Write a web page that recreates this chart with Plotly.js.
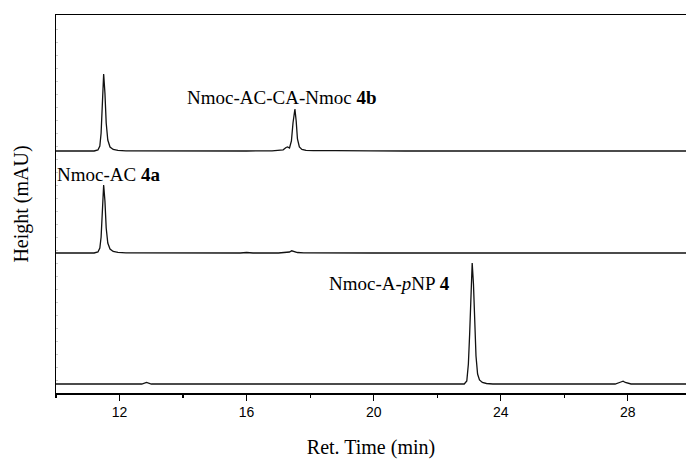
<!DOCTYPE html>
<html>
<head>
<meta charset="utf-8">
<script src="https://cdn.plot.ly/plotly-3.0.1.min.js"></script>
<style>
  html, body { margin: 0; padding: 0; background: #fff; }
  #chart { width: 686px; height: 460px; }
</style>
</head>
<body>
<div id="chart"></div>
<script>
// HPLC chromatograms, retention time (min) vs detector height (mAU)

// Nmoc-AC-CA-Nmoc 4b run
const timeDimer = [10.0, 10.6, 11.2, 11.32, 11.38, 11.42, 11.46, 11.50, 11.54, 11.58, 11.63, 11.70, 11.80, 11.95, 12.2, 13.0, 14.0, 15.0, 16.0, 16.8, 17.15, 17.24, 17.29, 17.35, 17.41, 17.46, 17.52, 17.56, 17.60, 17.66, 17.74, 17.87, 18.1, 18.8, 19.6, 19.75, 19.9, 21.0, 22.0, 23.0, 24.0, 25.0, 26.0, 27.0, 28.0, 29.83];
const heightDimer = [0, 0, 0, 1, 5, 18, 52, 77, 58, 28, 11, 4, 1.5, 0.6, 0.2, 0, 0, 0, 0, 0.2, 1.2, 3.5, 4, 3, 10, 28, 42, 30, 12, 4, 1.5, 0.6, 0.3, 0.4, 0.5, 0.6, 0.2, 0, 0, 0, 0, 0, 0, 0, 0, 0];

// Nmoc-AC 4a run
const timeMono = [10.0, 10.6, 10.7, 10.8, 11.2, 11.32, 11.38, 11.42, 11.46, 11.50, 11.54, 11.58, 11.63, 11.70, 11.80, 11.95, 12.2, 13.0, 14.0, 15.0, 15.8, 16.0, 16.2, 17.0, 17.2, 17.3, 17.35, 17.42, 17.48, 17.6, 17.8, 18.5, 20.0, 22.0, 22.9, 23.05, 23.2, 24.0, 26.0, 28.0, 29.83];
const heightMono = [0, 0, 0.6, 0, 0, 1, 5, 16, 46, 68, 52, 25, 10, 4, 1.5, 0.6, 0.2, 0, 0, 0, 0, 0.5, 0, 0, 0.3, 1.2, 1, 2.2, 1.5, 0.5, 0.2, 0, 0, 0, 0, 0.6, 0, 0, 0, 0, 0];

// Nmoc-A-pNP 4 run
const timeEster = [10.0, 12.0, 12.7, 12.85, 13.0, 14.0, 16.0, 16.2, 16.4, 18.0, 18.8, 19.0, 20.0, 22.0, 22.85, 22.93, 22.98, 23.02, 23.06, 23.10, 23.14, 23.18, 23.22, 23.27, 23.33, 23.42, 23.55, 23.75, 24.5, 26.0, 27.6, 27.78, 27.85, 27.92, 28.1, 29.83];
const heightEster = [0, 0, 0, 1.5, 0, 0, 0, 0.5, 0, 0, 0.4, 0, 0, 0, 0, 3, 20, 50, 95, 121, 100, 60, 28, 10, 4, 1.5, 0.5, 0, 0, 0, 0, 2, 2.8, 1.5, 0, 0];

const xTicks = [12, 16, 20, 24, 28];
const xTickText = ['12', '16', '20', '24', '28'];

// vertical stacking of the three runs
const stackOffset = { dimer: 233, mono: 131, ester: 0 };

const shift = (arr, off) => arr.map(v => v + off);

const lineStyle = { color: '#111', width: 1.3 };

const traces = [
  { x: timeDimer, y: shift(heightDimer, stackOffset.dimer), mode: 'lines', line: lineStyle, hoverinfo: 'skip' },
  { x: timeMono, y: shift(heightMono, stackOffset.mono), mode: 'lines', line: lineStyle, hoverinfo: 'skip' },
  { x: timeEster, y: shift(heightEster, stackOffset.ester), mode: 'lines', line: lineStyle, hoverinfo: 'skip' }
];

const serif = 'Liberation Serif, Times New Roman, serif';
const sans = 'Liberation Sans, Arial, sans-serif';

const layout = {
  width: 686,
  height: 460,
  margin: { l: 56, r: 0, t: 15, b: 67 },
  paper_bgcolor: '#fff',
  plot_bgcolor: '#fff',
  showlegend: false,
  xaxis: {
    range: [10, 29.83],
    showgrid: false,
    zeroline: false,
    showline: true,
    mirror: true,
    linecolor: '#000',
    linewidth: 1.5,
    ticks: 'outside',
    ticklen: 6,
    tickwidth: 1.2,
    tickcolor: '#000',
    tickvals: xTicks,
    ticktext: xTickText,
    tickfont: { family: sans, size: 14, color: '#000' },
    minor: { tickvals: [10, 14, 18, 22, 26], ticks: 'outside', ticklen: 3, tickwidth: 1.2, tickcolor: '#000', showgrid: false },
    title: { text: 'Ret. Time (min)', font: { family: serif, size: 20, color: '#000' }, standoff: 20 }
  },
  yaxis: {
    range: [-9, 369],
    showgrid: false,
    zeroline: false,
    showline: true,
    linecolor: '#000',
    linewidth: 1.5,
    ticks: 'inside',
    ticklen: 2,
    tickwidth: 1,
    tickcolor: '#ccc',
    dtick: 13,
    tick0: -9,
    showticklabels: false,
    title: { text: 'Height (mAU)', font: { family: serif, size: 20, color: '#000' }, standoff: 20 }
  },
  annotations: [
    { x: 14.05, y: 287, xref: 'x', yref: 'y', text: 'Nmoc-AC-CA-Nmoc <b>4b</b>', showarrow: false, xanchor: 'left', yanchor: 'middle', font: { family: serif, size: 19, color: '#000' } },
    { x: 10.0, y: 210, xref: 'x', yref: 'y', xshift: -1, text: 'Nmoc-AC <b>4a</b>', showarrow: false, xanchor: 'left', yanchor: 'middle', font: { family: serif, size: 19, color: '#000' } },
    { x: 18.53, y: 101, xref: 'x', yref: 'y', text: 'Nmoc-A-<i>p</i>NP <b>4</b>', showarrow: false, xanchor: 'left', yanchor: 'middle', font: { family: serif, size: 19, color: '#000' } }
  ]
};

Plotly.newPlot('chart', traces, layout, { staticPlot: true, displayModeBar: false });
</script>
</body>
</html>
